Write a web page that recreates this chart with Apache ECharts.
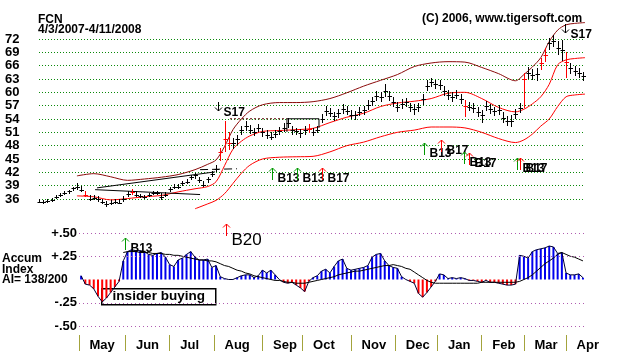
<!DOCTYPE html>
<html><head><meta charset="utf-8">
<script src="https://cdn.jsdelivr.net/npm/echarts@6/dist/echarts.min.js"></script>
<style>html,body{margin:0;padding:0;background:#fff}#c{width:618px;height:352px}</style>
</head><body><div id="c"></div>
<script>
// ---- DATA ----
const ticker = 'FCN';
const dateRange = '4/3/2007-4/11/2008';
const copyright = '(C) 2006, www.tigersoft.com';
const barStep = 2; // trading days between sampled bars
const closes = [35.4,35.3,35.6,35.8,36.4,36.9,37.4,37.7,38.4,38.8,
38.1,37.0,36.0,36.3,36.0,35.3,34.9,35.2,35.4,35.2,
36.0,37.2,37.6,37.0,36.7,36.5,36.9,37.3,37.4,36.5,
37.0,38.2,38.8,38.8,39.5,39.9,40.9,41.3,40.2,39.2,
40.5,41.7,42.8,46.5,49.5,48.5,48.5,49.5,51.5,52.5,
51.6,51.1,52.0,51.0,50.5,50.0,50.6,51.3,52.0,53.2,
51.5,51.2,50.8,51.5,51.8,51.1,51.6,54.0,55.8,55.4,
54.6,55.3,56.2,55.9,55.0,54.8,55.6,56.0,57.2,58.0,
59.2,59.0,60.2,59.2,57.9,56.6,57.4,57.8,56.6,56.2,
56.6,58.5,61.5,62.4,61.8,61.7,60.3,59.4,59.0,59.5,
58.6,57.0,56.8,56.5,55.6,54.8,56.9,56.3,55.7,56.0,
54.3,53.5,53.6,55.2,56.4,63.0,64.4,64.0,64.2,66.5,
68.5,71.0,71.6,70.0,69.5,66.8,65.4,64.8,64.3,63.6];
const highs = [35.9,35.8,36.0,36.3,36.8,37.3,37.8,38.1,38.8,39.6,
39.0,37.9,36.8,36.8,36.6,35.9,35.5,35.8,36.0,35.9,
36.6,37.8,38.3,37.7,37.2,37.0,37.4,37.8,37.9,37.3,
37.5,38.7,39.3,39.4,40.1,40.5,41.5,41.9,41.0,40.0,
41.0,42.3,43.6,47.5,53.5,51.0,49.8,50.5,52.5,53.5,
52.6,52.0,52.9,52.0,51.5,51.0,51.5,52.2,53.0,54.3,
52.5,52.0,51.8,52.4,52.8,52.0,52.5,55.2,56.9,56.4,
55.6,56.3,57.3,56.9,56.0,55.8,56.6,57.0,58.2,59.0,
60.3,60.0,61.8,60.4,59.0,57.8,58.5,58.8,57.7,57.3,
57.6,59.7,62.7,63.3,62.8,62.7,61.5,60.5,60.1,60.5,
59.7,58.3,57.9,57.6,56.8,56.0,58.0,57.4,56.8,57.1,
55.5,54.7,54.8,56.3,57.5,64.4,65.6,65.2,65.4,67.8,
70.0,72.3,72.9,71.5,71.8,69.1,66.6,66.0,65.4,64.6];
const lows = [35.0,34.9,35.2,35.4,35.9,36.4,36.9,37.2,37.8,38.0,
37.6,36.5,35.6,35.8,35.4,34.8,34.3,34.7,34.9,34.8,
35.4,36.5,37.0,36.5,36.2,36.0,36.4,36.8,36.9,35.8,
36.4,37.5,38.2,38.2,38.9,39.3,40.2,40.6,39.6,38.6,
39.6,41.0,42.0,44.5,46.5,47.0,47.3,48.2,50.3,51.4,
50.7,50.2,51.0,50.0,49.5,49.2,49.8,50.4,51.0,52.0,
50.5,50.3,49.8,50.5,50.9,50.2,50.8,53.0,54.6,54.4,
53.6,54.3,55.1,54.8,54.0,53.8,54.6,55.0,56.0,56.9,
58.0,57.9,59.0,58.0,56.8,55.5,56.3,56.7,55.5,55.0,
55.5,57.2,60.2,61.3,60.7,60.6,59.2,58.3,57.9,58.4,
57.4,54.5,55.7,55.4,54.4,53.0,55.8,55.2,54.6,54.9,
53.1,52.4,52.2,54.0,55.3,56.5,63.0,62.7,62.5,65.0,
66.8,69.5,70.2,68.5,67.0,63.3,64.2,63.6,63.2,62.5];
const redBars = [11,22,43,44,45,64,101,115,119,120,125];

const bandDays = [18,26,34,42,50,58,66,74,80,84,88,92,96,100,106,114,122,130,138,146,154,162,170,178,186,194,202,210,218,226,230,234,238,242,246,250,254,259];
const upperBand = [41.2,41.7,41.0,40.2,40.5,40.9,41.5,42.6,43.8,44.8,47.8,51.6,54.0,55.8,57.2,57.7,57.7,57.9,58.6,59.9,61.4,62.7,64.0,65.8,66.6,66.9,66.8,65.6,64.2,62.6,64.0,65.7,67.8,71.4,74.0,75.2,75.5,75.7];
const midBand = [36.7,36.5,35.8,36.1,36.5,36.8,37.6,38.3,38.8,39.9,43.5,47.2,49.0,50.2,51.2,51.4,51.6,51.9,53.2,54.4,55.3,56.8,57.6,58.0,58.6,59.8,60.0,58.6,56.6,55.6,56.2,57.4,59.0,61.8,66.2,67.3,67.6,67.8];
const lowerBand = [null,null,null,null,null,null,null,33.8,34.9,35.7,37.2,39.5,41.8,43.6,45.0,45.4,45.5,45.6,46.6,48.0,48.8,50.0,51.0,51.5,52.2,52.2,52.0,51.0,49.6,48.7,49.3,50.6,52.4,54.0,56.8,59.0,59.4,59.6];

// trend lines: [day, price] pairs
const trendLineA = [[27.5,38.5],[83.5,42.1]];
const trendLineB = [[26.6,38.1],[76.4,37.0]];
const trendLineDashed = [[76.4,42.6],[93.9,42.8]];
const resistanceDotted = [[90.6,54.05],[117.6,54.05]];
const resistanceBox = [[117.6,51.1],[117.6,54.05],[132.8,54.05],[132.8,52.0]];

const aiStart = 10; // first sampled bar with an Accumulation Index value
const aiValues = [0.04,-0.05,-0.06,-0.10,-0.18,-0.24,-0.20,-0.14,-0.08,-0.02,
0.20,0.30,0.32,0.31,0.31,0.30,0.27,0.26,0.28,0.29,
0.24,0.16,0.14,0.21,0.23,0.27,0.30,0.24,0.21,0.21,
0.22,0.13,0.15,0.03,0.01,0.00,0.00,0.02,0.04,0.05,
0.05,0.02,0.04,0.10,0.07,0.10,0.05,0.00,-0.03,-0.04,
-0.03,-0.06,-0.09,-0.13,-0.02,0.02,0.04,0.09,0.11,0.07,
0.14,0.20,0.22,0.12,0.10,0.11,0.12,0.13,0.15,0.24,
0.27,0.28,0.20,0.15,0.13,0.12,0.03,0.00,-0.02,-0.04,
-0.15,-0.19,-0.14,-0.08,-0.02,0.06,0.05,0.01,0.02,0.01,
0.02,0.01,-0.01,-0.01,-0.02,-0.03,-0.01,-0.03,-0.03,-0.04,
-0.05,-0.06,-0.06,-0.05,0.26,0.25,0.23,0.30,0.32,0.33,
0.34,0.36,0.35,0.28,0.29,0.07,0.05,0.05,0.06,0.02];
const aiAverage = [null,null,null,null,null,null,null,null,null,null,
0.29,0.30,0.30,0.30,0.29,0.29,0.29,0.28,0.28,0.28,
0.27,0.27,0.26,0.26,0.25,0.24,0.23,0.22,0.21,0.21,
0.20,0.20,0.19,0.17,0.15,0.14,0.12,0.10,0.09,0.07,
0.06,0.04,0.03,0.02,0.01,0.00,-0.01,-0.01,-0.02,-0.03,
-0.03,-0.04,-0.04,-0.04,-0.03,-0.02,-0.01,0.00,0.01,0.02,
0.03,0.05,0.06,0.07,0.08,0.09,0.09,0.10,0.11,0.12,
0.13,0.14,0.15,0.15,0.16,0.15,0.14,0.12,0.11,0.08,
0.05,0.02,-0.01,-0.03,-0.04,-0.04,-0.04,-0.04,-0.04,-0.04,
-0.04,-0.04,-0.04,-0.04,-0.04,-0.03,-0.03,-0.03,-0.03,-0.03,
-0.03,-0.03,-0.03,-0.03,-0.02,0.00,0.02,0.05,0.09,0.13,
0.17,0.20,0.23,0.27,0.29,0.27,0.25,0.24,0.22,0.20];
const aiLevels = [0.5,0.25,-0.25,-0.5];
const aiText = ['Accum','Index','AI= 138/200'];
const insiderText = 'insider buying';

const monthStarts = [19,41,62,83,106,125,148,169,189,210,230,250];
const monthNames = ['May','Jun','Jul','Aug','Sep','Oct','Nov','Dec','Jan','Feb','Mar','Apr'];
const labelShift = 5;

const priceSignals = [
  {day:84.9, value:55.8, label:'S17'},
  {day:249.5, value:73.4, label:'S17'},
  {day:110.5, value:43.0, label:'B13'},
  {day:122.4, value:43.0, label:'B13'},
  {day:134.2, value:43.0, label:'B17'},
  {day:182.6, value:48.6, label:'B13'},
  {day:190.7, value:49.3, label:'B17'},
  {day:201.6, value:46.6, label:'B13'},
  {day:204.0, value:46.4, label:'B17'},
  {day:226.8, value:45.3, label:'B13'},
  {day:228.2, value:45.3, label:'B17'}
];
const aiSignals = [
  {day:40.8, value:0.447, label:'B13'},
  {day:88.7, value:0.596, label:'B20'}
];

// ---- STYLE ----
const FONT = '"Liberation Sans", Arial, sans-serif';
const signalColor = {S17:'#000000', B13:'#009900', B17:'#ff0000', B20:'#ff0000'};
const signalFont = {S17:'bold 12px '+FONT, B13:'bold 12px '+FONT, B17:'bold 12px '+FONT, B20:'normal 17px '+FONT};
const signalTextDy = {S17:2, B13:11, B17:11, B20:16};

const chart = echarts.init(document.getElementById('c'), null, {renderer:'canvas'});

function pairs(days, vals){
  const out = [];
  days.forEach((d,i)=>{ if (vals[i] !== null) out.push([d, vals[i]]); });
  return out;
}
const priceData = closes.map((c,i)=>[i*barStep, highs[i], lows[i], c, redBars.indexOf(i) >= 0 ? 1 : 0]);
const aiDays = aiValues.map((v,i)=>(i+aiStart)*barStep);

function lineSeries(data, color, extra){
  return Object.assign({type:'line', xAxisIndex:0, yAxisIndex:0, data:data, showSymbol:false, symbol:'none',
    clip:false, silent:true, animation:false, lineStyle:{color:color, width:1}}, extra || {});
}

function signalSeries(list, xi, yi){
  return {
    type:'custom', xAxisIndex:xi, yAxisIndex:yi, clip:false, z:10, silent:true, animation:false,
    data: list.map(s=>[s.day, s.value]),
    renderItem: function(params, api){
      const s = list[params.dataIndex];
      const p = api.coord([api.value(0), api.value(1)]);
      const x = Math.round(p[0]) + 0.5, y = Math.round(p[1]);
      const up = s.label[0] === 'B';
      const col = signalColor[s.label];
      const len = up ? 12 : 9;
      const ch = [];
      if (up) {
        ch.push({type:'line', shape:{x1:x,y1:y,x2:x,y2:y+len}, style:{stroke:col,lineWidth:1}});
        ch.push({type:'polyline', shape:{points:[[x-3.5,y+3.5],[x,y],[x+3.5,y+3.5]]}, style:{stroke:col,lineWidth:1,fill:null}});
      } else {
        ch.push({type:'line', shape:{x1:x,y1:y-len,x2:x,y2:y}, style:{stroke:col,lineWidth:1}});
        ch.push({type:'polyline', shape:{points:[[x-3.5,y-3.5],[x,y],[x+3.5,y-3.5]]}, style:{stroke:col,lineWidth:1,fill:null}});
      }
      ch.push({type:'text', x:x+5, y:y+signalTextDy[s.label],
        style:{text:s.label, font:signalFont[s.label], fill:'#000', verticalAlign:'middle', align:'left'}});
      return {type:'group', children:ch};
    }
  };
}

const option = {
  animation:false,
  backgroundColor:'#ffffff',
  grid:[
    {left:39, top:39, width:545, height:160},
    {left:79, top:233, width:505, height:94}
  ],
  xAxis:[
    {gridIndex:0, type:'value', min:0, max:258.5, show:false},
    {gridIndex:1, type:'value', min:19, max:258.5, offset:9, position:'bottom',
      axisLine:{show:false, onZero:false}, splitLine:{show:false},
      axisTick:{show:true, length:16, customValues:monthStarts, lineStyle:{color:'#a3a33c', width:1}},
      axisLabel:{customValues:monthStarts.map(m=>m+labelShift), align:'left', margin:4,
        fontFamily:FONT, fontWeight:'bold', fontSize:13, color:'#000',
        formatter:function(v){ const i = monthStarts.indexOf(v - labelShift); return i>=0 ? monthNames[i] : ''; }}
    }
  ],
  yAxis:[
    {gridIndex:0, type:'value', min:36, max:72, interval:3,
      axisLine:{show:false}, axisTick:{show:false},
      axisLabel:{align:'left', margin:34, fontFamily:FONT, fontWeight:'bold', fontSize:13, color:'#000'},
      splitLine:{show:true, lineStyle:{color:'#0a8a0a', width:1, type:[1,2]}}},
    {gridIndex:1, type:'value', min:-0.5, max:0.5, interval:0.25,
      axisLine:{show:false}, axisTick:{show:false}, splitLine:{show:false},
      axisLabel:{margin:2, fontFamily:FONT, fontWeight:'bold', fontSize:13, color:'#000',
        formatter:function(v){ if (Math.abs(v) < 1e-9) return ''; const s = Math.abs(v).toFixed(2).replace(/^0/,''); return (v>0?'+':'-')+s; }}}
  ],
  series:[
    lineSeries(pairs(bandDays, upperBand), '#8b0a0a', {smooth:0.3}),
    lineSeries(pairs(bandDays, midBand), '#ff0000', {smooth:0.3}),
    lineSeries(pairs(bandDays, lowerBand), '#ff0000', {smooth:0.3}),
    lineSeries(trendLineA, '#000000'),
    lineSeries(trendLineB, '#000000'),
    lineSeries(trendLineDashed, '#000000', {lineStyle:{color:'#000', width:1, type:[8,4]}}),
    lineSeries(resistanceDotted, '#5a0000', {lineStyle:{color:'#5a0000', width:1, type:[2,2]}}),
    lineSeries(resistanceBox, '#000000'),
    {
      type:'custom', xAxisIndex:0, yAxisIndex:0, clip:false, silent:true, animation:false, z:5,
      data: priceData,
      encode:{x:0, y:[1,2,3]},
      renderItem:function(params, api){
        const d = api.value(0);
        const hi = api.coord([d, api.value(1)]);
        const lo = api.coord([d, api.value(2)]);
        const cl = api.coord([d, api.value(3)]);
        const px = Math.round(hi[0]) + 0.5;
        const col = api.value(4) ? '#ff0000' : '#000000';
        const cy = Math.round(cl[1]) + 0.5;
        return {type:'group', children:[
          {type:'line', shape:{x1:px, y1:Math.round(hi[1]), x2:px, y2:Math.round(lo[1])}, style:{stroke:col, lineWidth:1}},
          {type:'line', shape:{x1:px-2, y1:cy, x2:px+2.5, y2:cy}, style:{stroke:col, lineWidth:1}}
        ]};
      }
    },
    signalSeries(priceSignals, 0, 0),
    {
      type:'bar', xAxisIndex:1, yAxisIndex:1, barWidth:2, silent:true, animation:false,
      data: aiValues.map((v,i)=>[aiDays[i], v]),
      itemStyle:{color:function(p){ return p.value[1] >= 0 ? '#0000ee' : '#ff0000'; }},
      markLine:{silent:true, symbol:'none', label:{show:false},
        lineStyle:{color:'#b05cb0', width:1, type:[1,3]},
        data: aiLevels.map(l=>({yAxis:l}))}
    },
    {type:'line', xAxisIndex:1, yAxisIndex:1, showSymbol:false, symbol:'none', silent:true, animation:false,
      data: aiValues.map((v,i)=>[aiDays[i], v]), lineStyle:{color:'#000033', width:1}},
    {type:'line', xAxisIndex:1, yAxisIndex:1, showSymbol:false, symbol:'none', silent:true, animation:false,
      data: pairs(aiDays, aiAverage), lineStyle:{color:'#000000', width:1}},
    signalSeries(aiSignals, 1, 1)
  ],
  graphic:[
    {type:'text', left:38, top:14, style:{text:ticker, font:'bold 12px '+FONT, fill:'#000'}},
    {type:'text', left:38, top:24, style:{text:dateRange, font:'bold 12px '+FONT, fill:'#000'}},
    {type:'text', left:422, top:13, style:{text:copyright, font:'bold 12px '+FONT, fill:'#000'}},
    {type:'text', left:2, top:253, style:{text:aiText.join('\n'), font:'bold 12px '+FONT, fill:'#000', lineHeight:10.5}},
    {type:'group', left:101, top:288, children:[
      {type:'rect', shape:{x:0, y:0, width:114, height:16}, style:{fill:'#fff', stroke:'#000', lineWidth:1.5}},
      {type:'text', x:57, y:8, style:{text:insiderText, font:'bold 13.5px '+FONT, fill:'#000', align:'center', verticalAlign:'middle'}}
    ]}
  ]
};
chart.setOption(option);
</script>
</body></html>
